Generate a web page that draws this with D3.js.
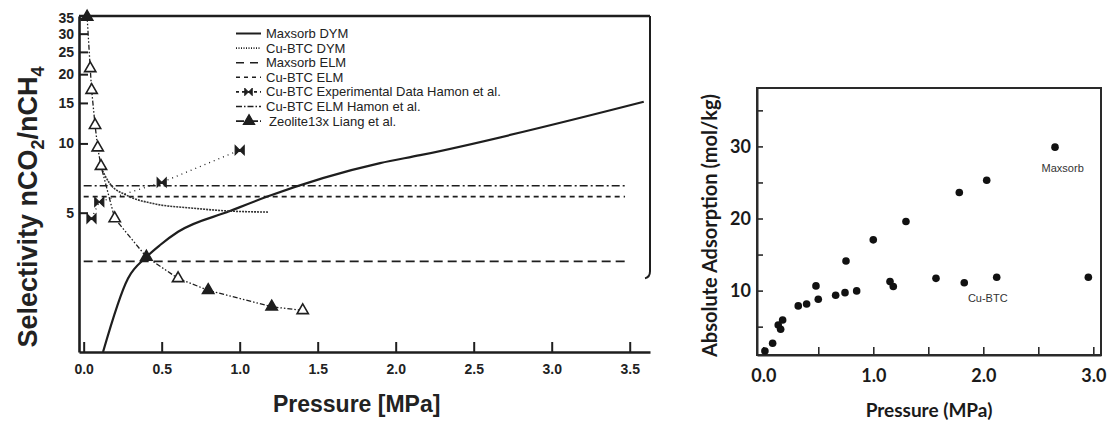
<!DOCTYPE html>
<html>
<head>
<meta charset="utf-8">
<script src="https://cdn.jsdelivr.net/npm/d3@7"></script>
<style>
body { margin: 0; background: #fff; }
svg { display: block; }
</style>
</head>
<body>
<svg id="chart" width="1110" height="422"></svg>
<script>
// ---- left panel: selectivity nCO2/nCH4 vs pressure (MPa) ----
var maxsorbDymP = [0.124, 0.284, 0.402, 0.488, 0.605, 0.937, 1.173, 1.90, 2.157, 3.59];
var maxsorbDymS = [1.24, 2.59, 3.21, 3.61, 4.13, 5.08, 5.86, 8.21, 8.89, 15.17];
var cuDymP = [0.103, 0.167, 0.274, 0.445, 0.70, 0.916, 1.181];
var cuDymS = [8.05, 6.70, 5.96, 5.48, 5.23, 5.09, 5.03];
var elmP = [0, 3.47];
var maxsorbElmS = [3.07, 3.07];
var cuElmS = [5.87, 5.87];
var cuElmHamonS = [6.55, 6.55];
var cuExpP = [0.05, 0.1, 0.5, 1.0];
var cuExpS = [4.72, 5.57, 6.77, 9.35];
var zeoP = [0.022, 0.042, 0.051, 0.073, 0.090, 0.111, 0.199, 0.402, 0.605, 0.798, 1.205, 1.404];
var zeoS = [35.5, 21.2, 17.05, 12.0, 9.59, 7.97, 4.72, 3.21, 2.59, 2.30, 1.95, 1.88];
var zeoFilled = [1, 0, 0, 0, 0, 0, 0, 1, 0, 1, 1, 0];
var leftXTicks = [0, 0.5, 1.0, 1.5, 2.0, 2.5, 3.0, 3.5];
var leftYTicks = [5, 10, 15, 20, 25, 30, 35];
var legendLabels = ["Maxsorb DYM", "Cu-BTC DYM", "Maxsorb ELM", "Cu-BTC ELM",
  "Cu-BTC Experimental Data Hamon et al.", "Cu-BTC ELM Hamon et al.", "Zeolite13x Liang et al."];

// ---- right panel: absolute adsorption (mol/kg) vs pressure (MPa) ----
var maxsorbP = [0.158, 0.479, 0.752, 1.0, 1.297, 1.782, 2.031, 2.652];
var maxsorbQ = [4.64, 10.65, 14.1, 17.04, 19.58, 23.6, 25.3, 29.9];
var cuBtcP = [0.015, 0.085, 0.136, 0.176, 0.318, 0.394, 0.5, 0.658, 0.743, 0.849, 1.152, 1.182, 1.57, 1.827, 2.122, 2.955];
var cuBtcQ = [1.63, 2.69, 5.24, 5.93, 7.88, 8.15, 8.8, 9.36, 9.72, 9.96, 11.25, 10.56, 11.7, 11.1, 11.85, 11.85];
var rightXTicks = [0, 0.5, 1.0, 1.5, 2.0, 2.5, 3.0];
var rightYTicks = [5, 10, 15, 20, 25, 30, 35];

var svg = d3.select("#chart");
var ink = "#1e1e1e";

function pts(xs, ys) {
  return xs.map((d, i) => ({ x: d, y: ys[i] }));
}

// ================= left chart =================
var L = { left: 79, right: 650, top: 16, bottom: 352 };
var x1 = d3.scaleLinear().domain([-0.03, 3.63]).range([L.left, L.right]);
var y1 = d3.scaleLog().domain([1.24, 35.8]).range([L.bottom, L.top]);
var gL = svg.append("g").attr("font-family", "'Liberation Sans', Arial, sans-serif");

var line1 = d3.line().x((d) => x1(d.x)).y((d) => y1(d.y));
var curve1 = d3.line().x((d) => x1(d.x)).y((d) => y1(d.y)).curve(d3.curveMonotoneX);

// frame top + partial right side
gL.append("line")
  .attr("x1", L.left).attr("x2", L.right)
  .attr("y1", L.top).attr("y2", L.top)
  .attr("stroke", ink).attr("stroke-width", 2.4);
var rEnd = L.top + (L.bottom - L.top) * 0.76;
gL.append("path")
  .attr("d", "M" + L.right + "," + L.top + "L" + L.right + "," + rEnd +
    "Q" + L.right + "," + (rEnd + 6) + " " + (L.right - 5) + "," + (rEnd + 7))
  .attr("fill", "none").attr("stroke", ink).attr("stroke-width", 2);

var xAxisL = gL.append("g")
  .attr("transform", "translate(0," + L.bottom + ")")
  .call(d3.axisBottom(x1).tickValues(leftXTicks).tickSizeInner(-10).tickSizeOuter(0)
    .tickPadding(12).tickFormat(d3.format(".1f")));
var yAxisL = gL.append("g")
  .attr("transform", "translate(" + L.left + ",0)")
  .call(d3.axisLeft(y1).tickValues(leftYTicks).tickSizeInner(-9).tickSizeOuter(0)
    .tickPadding(5).tickFormat(d3.format("d")));
[xAxisL, yAxisL].forEach(function (a) {
  a.select(".domain").attr("stroke", ink).attr("stroke-width", 2.6);
  a.selectAll(".tick line").attr("stroke", ink).attr("stroke-width", 2);
  a.selectAll(".tick text").attr("fill", "#222").attr("font-size", 14)
    .attr("font-weight", "bold").attr("font-family", "'Liberation Sans', Arial, sans-serif");
});

gL.append("text")
  .attr("x", x1(1.75)).attr("y", 412)
  .attr("text-anchor", "middle")
  .attr("font-size", 23).attr("font-weight", "bold").attr("fill", "#222")
  .text("Pressure [MPa]");

var yt = gL.append("text")
  .attr("transform", "translate(37,207) rotate(-90)")
  .attr("text-anchor", "middle")
  .attr("font-size", 27).attr("font-weight", "bold").attr("fill", "#222");
yt.append("tspan").text("Selectivity nCO");
yt.append("tspan").attr("font-size", 18).attr("dy", 7).text("2");
yt.append("tspan").attr("dy", -7).text("/nCH");
yt.append("tspan").attr("font-size", 18).attr("dy", 7).text("4");

// horizontal ELM lines
gL.append("path").datum(pts(elmP, maxsorbElmS)).attr("d", line1)
  .attr("fill", "none").attr("stroke", ink).attr("stroke-width", 1.8).attr("stroke-dasharray", "9,5");
gL.append("path").datum(pts(elmP, cuElmS)).attr("d", line1)
  .attr("fill", "none").attr("stroke", ink).attr("stroke-width", 1.8).attr("stroke-dasharray", "5,4");
gL.append("path").datum(pts(elmP, cuElmHamonS)).attr("d", line1)
  .attr("fill", "none").attr("stroke", ink).attr("stroke-width", 1.6).attr("stroke-dasharray", "8,3,2,3");

// model curves
gL.append("path").datum(pts(maxsorbDymP, maxsorbDymS)).attr("d", curve1)
  .attr("fill", "none").attr("stroke", ink).attr("stroke-width", 2.2);
gL.append("path").datum(pts(cuDymP, cuDymS)).attr("d", curve1)
  .attr("fill", "none").attr("stroke", "#333").attr("stroke-width", 1.6).attr("stroke-dasharray", "2,1");

// experimental Cu-BTC (bowtie markers)
var bowtie = "M-4.5,-4.5L0,0L-4.5,4.5ZM4.5,-4.5L0,0L4.5,4.5Z";
gL.append("path").datum(pts(cuExpP, cuExpS)).attr("d", line1)
  .attr("fill", "none").attr("stroke", ink).attr("stroke-width", 1.3).attr("stroke-dasharray", "1,4");
gL.selectAll(".bow").data(pts(cuExpP, cuExpS)).enter().append("path")
  .attr("class", "bow")
  .attr("transform", (d) => "translate(" + x1(d.x) + "," + y1(d.y) + ")")
  .attr("d", bowtie).attr("fill", ink).attr("stroke", ink).attr("stroke-width", 1.2);

// zeolite 13x (triangles)
var tri = d3.symbol().type(d3.symbolTriangle).size(55);
gL.append("path").datum(pts(zeoP, zeoS)).attr("d", line1)
  .attr("fill", "none").attr("stroke", ink).attr("stroke-width", 1.3).attr("stroke-dasharray", "5,2,1.5,2,1.5,2");
gL.selectAll(".tri").data(pts(zeoP, zeoS)).enter().append("path")
  .attr("class", "tri")
  .attr("transform", (d) => "translate(" + x1(d.x) + "," + y1(d.y) + ")")
  .attr("d", tri)
  .attr("fill", (d, i) => (zeoFilled[i] ? ink : "#fff"))
  .attr("stroke", ink).attr("stroke-width", 1.6);

// legend
var lg = gL.append("g").attr("transform", "translate(236,33.5)");
var dashes = [null, "1,1.5", "8,6", "4,4", "3,3", "6,2,1.5,2", "8,2,2,2"];
legendLabels.forEach(function (lab, i) {
  var row = lg.append("g").attr("transform", "translate(0," + i * 14.6 + ")");
  row.append("line").attr("x1", 0).attr("x2", 25).attr("y1", 0).attr("y2", 0)
    .attr("stroke", ink).attr("stroke-width", i === 0 ? 2 : 1.6)
    .attr("stroke-dasharray", dashes[i]);
  if (i === 4) row.append("path").attr("transform", "translate(12.5,0) scale(0.85)")
    .attr("d", bowtie).attr("fill", ink).attr("stroke", ink);
  if (i === 6) row.append("path").attr("transform", "translate(13,0)")
    .attr("d", tri).attr("fill", ink).attr("stroke", ink).attr("stroke-width", 1.2);
  row.append("text").attr("x", i === 6 ? 33 : 30).attr("y", 4.5)
    .attr("font-size", 13).attr("fill", "#222").text(lab);
});

// ================= right chart =================
var R = { left: 757, right: 1101, top: 88, bottom: 355 };
var x2 = d3.scaleLinear().domain([-0.057, 3.07]).range([R.left, R.right]);
var y2 = d3.scaleLinear().domain([1.07, 38.1]).range([R.bottom, R.top]);
var gR = svg.append("g").attr("font-family", "Lato, 'Open Sans', sans-serif");

gR.append("rect")
  .attr("x", R.left).attr("y", R.top)
  .attr("width", R.right - R.left).attr("height", R.bottom - R.top)
  .attr("fill", "none").attr("stroke", "#2a2a2a").attr("stroke-width", 2);

var xAxisR = gR.append("g")
  .attr("transform", "translate(0," + R.bottom + ")")
  .call(d3.axisBottom(x2).tickValues(rightXTicks).tickSizeInner(-8).tickSizeOuter(0)
    .tickPadding(14).tickFormat((d) => (d % 1 === 0 ? d3.format(".1f")(d) : "")));
var yAxisR = gR.append("g")
  .attr("transform", "translate(" + R.left + ",0)")
  .call(d3.axisLeft(y2).tickValues(rightYTicks).tickSizeInner(-6).tickSizeOuter(0)
    .tickPadding(6).tickFormat((d) => (d % 10 === 0 ? d : "")));
[xAxisR, yAxisR].forEach(function (a) {
  a.select(".domain").attr("stroke", "#2a2a2a").attr("stroke-width", 2);
  a.selectAll(".tick line").attr("stroke", "#2a2a2a").attr("stroke-width", 1.6);
  a.selectAll(".tick text").attr("fill", "#1a1a1a").attr("font-size", 18)
    .attr("font-weight", "bold").attr("font-family", "Lato, 'Open Sans', sans-serif");
});

gR.append("text")
  .attr("x", (R.left + R.right) / 2).attr("y", 417)
  .attr("text-anchor", "middle").attr("font-size", 19).attr("font-weight", "bold")
  .attr("fill", "#1a1a1a").text("Pressure (MPa)");
gR.append("text")
  .attr("transform", "translate(717," + ((R.top + R.bottom) / 2 + 4) + ") rotate(-90)")
  .attr("text-anchor", "middle").attr("font-size", 20).attr("font-weight", "bold")
  .attr("fill", "#1a1a1a").text("Absolute Adsorption (mol/kg)");

gR.selectAll(".dotA").data(pts(maxsorbP, maxsorbQ).concat(pts(cuBtcP, cuBtcQ))).enter()
  .append("circle")
  .attr("class", "dotA")
  .attr("cx", (d) => x2(d.x))
  .attr("cy", (d) => y2(d.y))
  .attr("r", 3.8)
  .attr("fill", "#111");

gR.append("text").attr("x", x2(2.53)).attr("y", y2(26.5))
  .attr("font-family", "'Liberation Sans', Arial, sans-serif")
  .attr("font-size", 11).attr("fill", "#333").text("Maxsorb");
gR.append("text").attr("x", x2(1.86)).attr("y", y2(8.43))
  .attr("font-family", "'Liberation Sans', Arial, sans-serif")
  .attr("font-size", 11).attr("fill", "#333").text("Cu-BTC");
</script>
</body>
</html>
